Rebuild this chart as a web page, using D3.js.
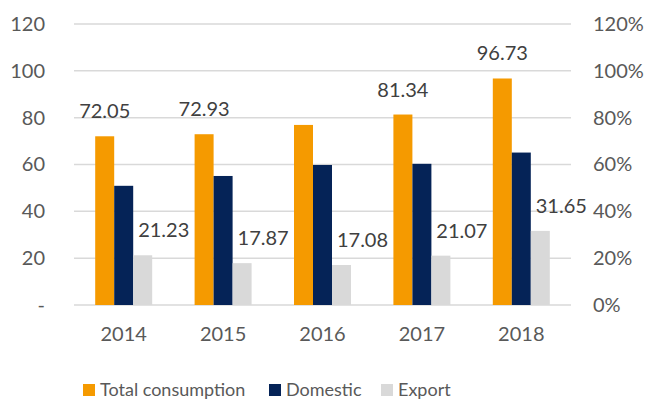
<!DOCTYPE html>
<html><head><meta charset="utf-8">
<script src="https://cdn.jsdelivr.net/npm/d3@7"></script>
<style>body{margin:0;background:#fff}svg{display:block}text{font-family:Lato,"Liberation Sans",sans-serif}</style>
</head><body><svg id="c" width="649" height="400"></svg>
<script>
const years = ["2014","2015","2016","2017","2018"];
const totalConsumption = [72.05, 72.93, 76.9, 81.34, 96.73];
const domestic = [50.9, 55.1, 59.8, 60.3, 65.1];
const exportVals = [21.23, 17.87, 17.08, 21.07, 31.65];
const totalLabelShown = [true, true, false, true, true];
const leftTicks = [0, 20, 40, 60, 80, 100, 120];
const rightTicks = [0, 0.2, 0.4, 0.6, 0.8, 1.0, 1.2];
const seriesNames = ["Total consumption", "Domestic", "Export"];
const colors = ["#F59A00", "#052357", "#D9D9D9"];

(function(){
const svg = d3.select("#c");
const pL = 74, pR = 571, pT = 24, pB = 305;
const x = d3.scaleBand().domain(years).range([pL, pR]);
const y = d3.scaleLinear().domain([0, 120]).range([pB, pT]);
const yR = d3.scaleLinear().domain([0, 1.2]).range([pB, pT]);
const inner = d3.scaleBand().domain([0,1,2]).range([0, 57]);
const groupOffset = (x.bandwidth() - 57) / 2;
const FF = "Lato, 'Liberation Sans', sans-serif";

svg.append("g").selectAll("line").data(leftTicks).join("line")
  .attr("x1", pL).attr("x2", pR)
  .attr("y1", d => y(d)).attr("y2", d => y(d))
  .attr("stroke", "#D9D9D9").attr("stroke-width", 1.5);

const la = svg.append("g").attr("transform", `translate(${pL},0)`)
  .call(d3.axisLeft(y).tickValues(leftTicks).tickSize(0).tickPadding(29)
    .tickFormat(d => d === 0 ? "-" : d));
la.select(".domain").remove();
la.selectAll("text").attr("font-size", 20).attr("fill", "#595959").attr("font-family", FF);

const ra = svg.append("g").attr("transform", `translate(${pR},0)`)
  .call(d3.axisRight(yR).tickValues(rightTicks).tickSize(0).tickPadding(22)
    .tickFormat(d3.format(".0%")));
ra.select(".domain").remove();
ra.selectAll("text").attr("font-size", 20).attr("fill", "#595959").attr("font-family", FF);

const xa = svg.append("g").attr("transform", `translate(0,${pB})`)
  .call(d3.axisBottom(x).tickSize(0).tickPadding(22));
xa.select(".domain").remove();
xa.selectAll("text").attr("font-size", 20).attr("fill", "#595959").attr("font-family", FF);

const series = [totalConsumption, domestic, exportVals];
series.forEach((vals, si) => {
  svg.append("g").selectAll("rect").data(vals).join("rect")
    .attr("x", (d, i) => x(years[i]) + groupOffset + inner(si))
    .attr("width", inner.bandwidth())
    .attr("y", d => y(d))
    .attr("height", d => pB - y(d))
    .attr("fill", colors[si]);
});

svg.append("g").selectAll("text").data(totalConsumption.map((v, i) => ({v, i})).filter(d => totalLabelShown[d.i]))
  .join("text")
  .attr("x", d => x(years[d.i]) + groupOffset + inner(0) + inner.bandwidth() / 2)
  .attr("y", d => y(d.v) - 18)
  .attr("text-anchor", "middle").attr("font-size", 20).attr("fill", "#404040")
  .text(d => d.v.toFixed(2));

svg.append("g").selectAll("text").data(exportVals.map((v, i) => ({v, i})))
  .join("text")
  .attr("x", d => x(years[d.i]) + groupOffset + inner(2) + inner.bandwidth() / 2 + 21)
  .attr("y", d => y(d.v) - 18)
  .attr("text-anchor", "middle").attr("font-size", 20).attr("fill", "#404040")
  .text(d => d.v.toFixed(2));

const legendX = [83, 269, 381];
const lg = svg.append("g");
seriesNames.forEach((n, i) => {
  lg.append("rect").attr("x", legendX[i]).attr("y", 384).attr("width", 12).attr("height", 12).attr("fill", colors[i]);
  lg.append("text").attr("x", legendX[i] + 17).attr("y", 396).attr("font-size", 18).attr("fill", "#595959").text(n);
});
})();
</script></body></html>
